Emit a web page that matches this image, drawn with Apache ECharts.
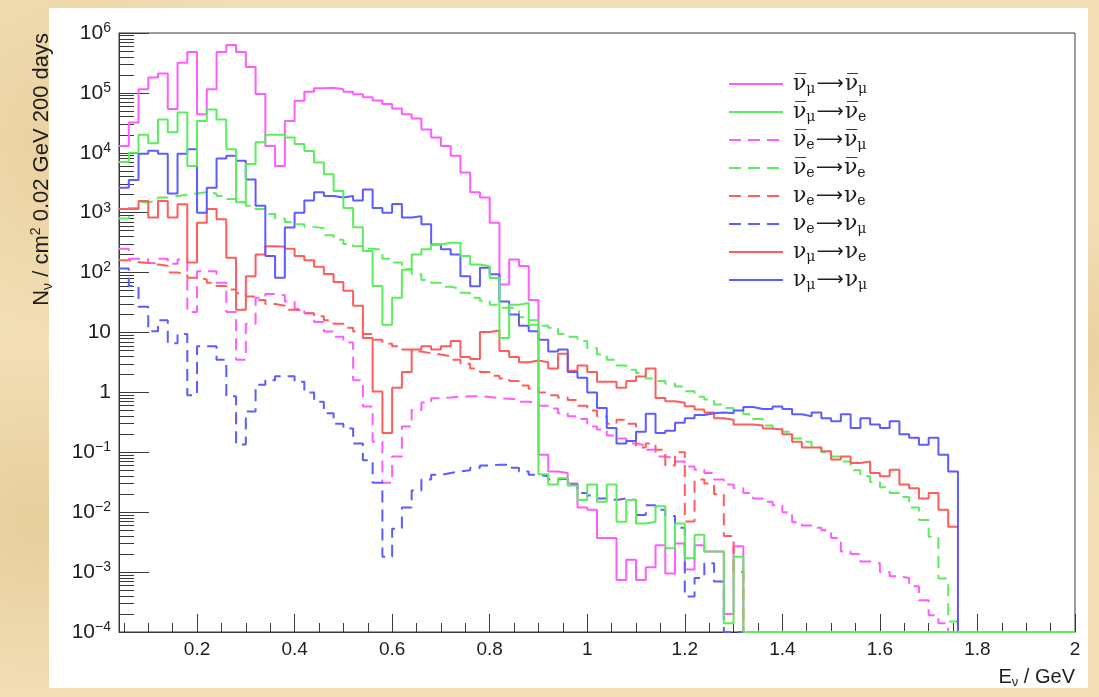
<!DOCTYPE html>
<html>
<head>
<meta charset="utf-8">
<script src="https://cdn.jsdelivr.net/npm/echarts@6/dist/echarts.min.js"></script>
<style>
  html, body { margin: 0; padding: 0; width: 1099px; height: 697px; overflow: hidden; }
  body {
    background:
      radial-gradient(circle at 8% 20%, rgba(214, 178, 110, 0.35), rgba(214, 178, 110, 0) 18%),
      radial-gradient(circle at 3% 75%, rgba(205, 165, 95, 0.30), rgba(205, 165, 95, 0) 15%),
      radial-gradient(circle at 98% 50%, rgba(214, 178, 110, 0.30), rgba(214, 178, 110, 0) 12%),
      #f2dfb6;
  }
  #paper { position: absolute; left: 49px; top: 8px; width: 1039px; height: 680px; background: #ffffff; }
  #chart { position: absolute; left: 0; top: 0; width: 1099px; height: 697px; }
</style>
</head>
<body>
<div id="paper"></div>
<div id="chart"></div>
<script>
// Histogram binning: 0.02 GeV bins starting at 0.04 GeV
const binStart = 0.04;
const binWidth = 0.02;

// Event counts per bin (empty bins are 0)
const nbarMuToNbarMu = [
  1.3e4, 3.2e4, 1.15e5, 1.8e5, 2.1e5, 5.4e4, 3.2e5, 4.8e5, 4.4e4, 1.15e5,
  4.8e5, 6.3e5, 4.8e5, 2.7e5, 9.6e4, 1.3e4, 6e3, 3.4e4, 7.4e4, 1.05e5,
  1.2e5, 1.22e5, 1.15e5, 1.05e5, 9.5e4, 8.5e4, 7.5e4, 6.5e4, 5.5e4, 4.4e4,
  3.75e4, 2.45e4, 1.8e4, 1.3e4, 8.9e3, 4.7e3, 2.2e3, 1.8e3, 680, 63,
  166, 129, 35, 0.091, 0.048, 0.045, 0.03, 0.012, 0.011, 0.0037,
  0.0037, 7.4e-4, 1.6e-3, 7.4e-4, 1.2e-3, 2.8e-3, 9.5e-4, 3e-3, 1.1e-3, 2.8e-3,
  2.2e-3, 2.2e-3, 2e-4, 2.7e-3, 0, 0, 0, 0, 0, 0,
  0, 0, 0, 0, 0, 0, 0, 0, 0, 0,
  0, 0, 0, 0, 0, 0, 0, 0, 0, 0,
  0, 0, 0, 0, 0, 0, 0, 0
];
const nbarMuToNbarE = [
  7e3, 1e4, 2e4, 1.45e4, 3.6e4, 2.2e4, 4.7e4, 6e3, 3.4e4, 5.3e4,
  3.6e4, 1.15e4, 1.5e3, 6.5e3, 1.5e4, 2e4, 2e4, 1.8e4, 1.4e4, 1.07e4,
  6.9e3, 4.4e3, 2.3e3, 1.2e3, 570, 230, 60, 13.5, 38, 112,
  200, 245, 295, 316, 316, 190, 137, 128, 81, 8.1,
  29, 31, 13.5, 0.043, 0.029, 0.037, 0.028, 0.016, 0.029, 0.015,
  0.029, 0.0069, 0.016, 0.0065, 0.0069, 0.0126, 0.0025, 0.0065, 0.0017, 0.0042,
  0.0022, 0.0022, 1.4e-4, 0.0018, 0, 0, 0, 0, 0, 0,
  0, 0, 0, 0, 0, 0, 0, 0, 0, 0,
  0, 0, 0, 0, 0, 0, 0, 0, 0, 0,
  0, 0, 0, 0, 0, 0, 0, 0
];
const nbarEToNbarMu = [
  250, 170, 165, 145, 170, 140, 165, 22, 105, 105,
  68, 22, 3.5, 14, 38, 44, 42, 33, 25, 21,
  15, 10.4, 8.5, 6.8, 1.6, 0.58, 0.15, 0.031, 0.085, 0.27,
  0.51, 0.68, 0.8, 0.82, 0.85, 0.86, 0.86, 0.84, 0.8, 0.78,
  0.76, 0.7, 0.65, 0.6, 0.54, 0.45, 0.4, 0.36, 0.27, 0.24,
  0.19, 0.17, 0.14, 0.13, 0.11, 0.085, 0.08, 0.07, 0.058, 0.051,
  0.045, 0.035, 0.029, 0.025, 0.021, 0.017, 0.015, 0.013, 0.010, 0.0068,
  0.006, 0.0055, 0.005, 0.0037, 0.0022, 0.002, 0.0015, 0.0014, 0.001, 8.5e-4,
  8e-4, 5.8e-4, 3.4e-4, 1.9e-4, 1.4e-4, 0, 0, 0, 0, 0,
  0, 0, 0, 0, 0, 0, 0, 0
];
const nbarEToNbarE = [
  800, 1.2e3, 1.5e3, 1.6e3, 1.8e3, 1.9e3, 2.0e3, 2.1e3, 2.2e3, 2.1e3,
  1.9e3, 1.7e3, 1.5e3, 1.3e3, 1.15e3, 950, 800, 700, 640, 580,
  550, 420, 355, 300, 275, 250, 240, 170, 147, 115,
  94, 75, 68, 58, 54, 46, 38, 34, 29, 26,
  25, 18, 16, 13, 12, 9.4, 8.5, 7.2, 5.5, 4.3,
  3.5, 2.8, 2.4, 2.1, 1.7, 1.55, 1.4, 1.25, 1.05, 0.85,
  0.76, 0.63, 0.55, 0.5, 0.43, 0.36, 0.28, 0.25, 0.22, 0.17,
  0.15, 0.12, 0.1, 0.085, 0.07, 0.05, 0.04, 0.032, 0.026, 0.021,
  0.018, 0.012, 0.0074, 0.0039, 7.8e-4, 1.5e-4, 0, 0, 0, 0,
  0, 0, 0, 0, 0, 0, 0, 0
];
const nuEToNuE = [
  160, 150, 145, 137, 130, 100, 94, 82, 77, 68,
  60, 52, 45, 40, 35, 30, 28, 24, 23, 21,
  18.6, 16, 14, 12, 10.4, 9.4, 7.6, 6.5, 5.9, 5.2,
  4.8, 4.5, 4.3, 4.0, 3.5, 3.0, 2.5, 2.2, 1.9, 1.7,
  1.55, 1.3, 1.15, 1.0, 0.9, 0.82, 0.75, 0.6, 0.5, 0.4,
  0.3, 0.35, 0.3, 0.12, 0.14, 0.11, 0.06, 0.1, 0.007, 0.035,
  0.03, 0.02, 0.004, 0.001, 0, 0, 0, 0, 0, 0,
  0, 0, 0, 0, 0, 0, 0, 0, 0, 0,
  0, 0, 0, 0, 0, 0, 0, 0, 0, 0,
  0, 0, 0, 0, 0, 0, 0, 0
];
const nuEToNuMu = [
  117, 60, 27, 10.5, 16, 6.6, 9.4, 0.9, 5.9, 5.9,
  3.5, 0.86, 0.135, 0.48, 1.34, 1.6, 1.86, 1.86, 1.5, 1.0,
  0.7, 0.45, 0.3, 0.25, 0.14, 0.074, 0.031, 0.0018, 0.0053, 0.012,
  0.023, 0.035, 0.042, 0.045, 0.048, 0.05, 0.055, 0.06, 0.062, 0.062,
  0.055, 0.048, 0.042, 0.04, 0.035, 0.036, 0.029, 0.021, 0.019, 0.017,
  0.016, 0.017, 0.016, 0.009, 0.013, 0.011, 0.0086, 0.0055, 3.9e-4, 8e-4,
  0.0014, 7e-4, 0, 0, 0, 0, 0, 0, 0, 0,
  0, 0, 0, 0, 0, 0, 0, 0, 0, 0,
  0, 0, 0, 0, 0, 0, 0, 0, 0, 0,
  0, 0, 0, 0, 0, 0, 0, 0
];
const nuMuToNuE = [
  1.15e3, 1.15e3, 1.57e3, 830, 1.57e3, 830, 1.38e3, 147, 680, 1.15e3,
  780, 177, 24, 87, 200, 275, 270, 250, 190, 160,
  125, 95, 70, 50, 28, 8.1, 1.04, 0.21, 1.2, 2.2,
  5.2, 5.9, 5.2, 5.9, 7.2, 3.9, 3.6, 10.2, 10.8, 4.9,
  3.9, 3.2, 3.4, 3.2, 2.5, 4.4, 2.3, 2.8, 2.2, 1.5,
  1.5, 1.19, 1.55, 1.85, 2.5, 0.81, 0.71, 0.67, 0.59, 0.52,
  0.46, 0.37, 0.35, 0.29, 0.29, 0.28, 0.25, 0.24, 0.2, 0.15,
  0.12, 0.12, 0.104, 0.076, 0.085, 0.066, 0.07, 0.045, 0.04, 0.051,
  0.029, 0.025, 0.017, 0.021, 0.011, 0.0057, 0, 0, 0, 0,
  0, 0, 0, 0, 0, 0, 0, 0
];
const nuMuToNuMu = [
  2.6e3, 3.5e3, 9.6e3, 1.08e4, 9.6e3, 2.1e3, 9.6e3, 1.15e4, 1e3, 2.6e3,
  8e3, 8.9e3, 7.4e3, 3.6e3, 1.3e3, 189, 82, 565, 1e3, 1.6e3,
  2.2e3, 1.9e3, 1.8e3, 1.9e3, 1.6e3, 2.45e3, 1.2e3, 1e3, 1.4e3, 830,
  870, 640, 295, 245, 200, 87, 59, 120, 94, 33,
  20, 13, 10.5, 7.6, 4.8, 5.2, 2.2, 1.75, 1.0, 0.55,
  0.255, 0.14, 0.155, 0.22, 0.44, 0.21, 0.23, 0.31, 0.37, 0.42,
  0.45, 0.46, 0.45, 0.5, 0.57, 0.53, 0.53, 0.58, 0.53, 0.43,
  0.40, 0.46, 0.37, 0.33, 0.43, 0.255, 0.37, 0.29, 0.255, 0.33,
  0.20, 0.175, 0.134, 0.175, 0.091, 0.048, 0, 0, 0, 0,
  0, 0, 0, 0, 0, 0, 0, 0
];

// Axis ticks and labels
const xTickValues = [0.2, 0.4, 0.6, 0.8, 1.0, 1.2, 1.4, 1.6, 1.8, 2.0];
const xTickLabels = ['0.2', '0.4', '0.6', '0.8', '1', '1.2', '1.4', '1.6', '1.8', '2'];
const yTickValues = [1e-4, 1e-3, 1e-2, 1e-1, 1, 10, 1e2, 1e3, 1e4, 1e5, 1e6];
const yTickLabels = ['10^−4', '10^−3', '10^−2', '10^−1', '1', '10', '10^2', '10^3', '10^4', '10^5', '10^6'];
const xTitle = 'E{s|ν} / GeV';
const yTitle = 'N{s|ν} / cm{p|2} 0.02 GeV 200 days';

const MAGENTA = '#ff5cff';
const GREEN = '#5ced5c';
const RED = '#ff5c5c';
const BLUE = '#5c5cff';

const channels = [
  { key: 'nbmu_nbmu', text: '{n|ν\u0305}{s|μ}{a|⟶}{n|ν\u0305}{s|μ}', data: nbarMuToNbarMu, color: MAGENTA, dashed: false, z: 2 },
  { key: 'nbmu_nbe',  text: '{n|ν\u0305}{s|μ}{a|⟶}{n|ν\u0305}{s|e}', data: nbarMuToNbarE,  color: GREEN,   dashed: false, z: 4 },
  { key: 'nbe_nbmu',  text: '{n|ν\u0305}{s|e}{a|⟶}{n|ν\u0305}{s|μ}', data: nbarEToNbarMu,  color: MAGENTA, dashed: true,  z: 2 },
  { key: 'nbe_nbe',   text: '{n|ν\u0305}{s|e}{a|⟶}{n|ν\u0305}{s|e}', data: nbarEToNbarE,   color: GREEN,   dashed: true,  z: 2 },
  { key: 'ne_ne',     text: '{n|ν}{s|e}{a|⟶}{n|ν}{s|e}',             data: nuEToNuE,       color: RED,     dashed: true,  z: 2 },
  { key: 'ne_nmu',    text: '{n|ν}{s|e}{a|⟶}{n|ν}{s|μ}',             data: nuEToNuMu,      color: BLUE,    dashed: true,  z: 2 },
  { key: 'nmu_ne',    text: '{n|ν}{s|μ}{a|⟶}{n|ν}{s|e}',             data: nuMuToNuE,      color: RED,     dashed: false, z: 3 },
  { key: 'nmu_nmu',   text: '{n|ν}{s|μ}{a|⟶}{n|ν}{s|μ}',             data: nuMuToNuMu,     color: BLUE,    dashed: false, z: 3 }
];

const yMin = 1e-4, yMax = 1e6;

// Step points at bin lower edges; empty bins sit on the axis floor
function histogramPoints(values) {
  const pts = values.map((v, i) => [+(binStart + i * binWidth).toFixed(2), v > 0 ? v : yMin]);
  pts.push([+(binStart + values.length * binWidth).toFixed(2), pts[pts.length - 1][1]]);
  return pts;
}

// Minor tick positions (axis decoration only)
const xMinorTicks = [];
for (let k = 1; k <= 40; k++) {
  const v = +(k * 0.05).toFixed(2);
  if (v >= binStart && Math.abs(v / 0.2 - Math.round(v / 0.2)) > 1e-6) xMinorTicks.push(v);
}
const yMinorTicks = [];
for (let e = -4; e < 6; e++) {
  for (let m = 2; m <= 9; m++) yMinorTicks.push(m * Math.pow(10, e));
}

const AXIS_COLOR = '#3a3a3a';
const TEXT_COLOR = '#1e1e1e';
const SANS = 'Liberation Sans, Arial, sans-serif';
const SERIF = 'DejaVu Serif, Liberation Serif, serif';

const GRID = { left: 119, right: 24, top: 33, bottom: 65 };
const W = 1099, H = 697;

const chart = echarts.init(document.getElementById('chart'), null, { renderer: 'canvas' });

const labelByKey = {};
channels.forEach(c => { labelByKey[c.key] = c.text; });

chart.setOption({
  animation: false,
  backgroundColor: 'transparent',
  grid: {
    left: GRID.left, right: GRID.right, top: GRID.top, bottom: GRID.bottom,
    outerBoundsMode: 'none', containLabel: false,
    show: true, borderColor: AXIS_COLOR, borderWidth: 1, backgroundColor: 'transparent'
  },
  legend: {
    orient: 'vertical',
    left: 723, top: 68,
    itemWidth: 54, itemHeight: 14, itemGap: 5,
    selectedMode: false,
    itemStyle: { opacity: 0 },
    data: channels.map(c => c.key),
    formatter: name => labelByKey[name],
    textStyle: {
      color: TEXT_COLOR,
      padding: [0, 0, 0, 5],
      rich: {
        n: { fontFamily: SERIF, fontSize: 22, lineHeight: 24, color: TEXT_COLOR },
        s: { fontFamily: SERIF, fontSize: 14, lineHeight: 13, verticalAlign: 'bottom', color: TEXT_COLOR },
        a: { fontFamily: 'DejaVu Sans, sans-serif', fontSize: 19, lineHeight: 24, color: TEXT_COLOR, padding: [0, 1, 0, 1] }
      }
    }
  },
  graphic: [
    {
      type: 'text', silent: true,
      x: 42, y: GRID.top, rotation: Math.PI / 2,
      style: {
        text: yTitle, align: 'right', verticalAlign: 'middle',
        fontFamily: SANS, fontSize: 22, fill: TEXT_COLOR, lineHeight: 26,
        rich: {
          s: { fontFamily: SANS, fontSize: 14, lineHeight: 14, verticalAlign: 'bottom', fill: TEXT_COLOR },
          p: { fontFamily: SANS, fontSize: 14, lineHeight: 14, verticalAlign: 'top', fill: TEXT_COLOR }
        }
      }
    },
    {
      type: 'text', silent: true,
      x: W - GRID.right, y: 677,
      style: {
        text: xTitle, align: 'right', verticalAlign: 'middle',
        fontFamily: SANS, fontSize: 20, fill: TEXT_COLOR, lineHeight: 24,
        rich: { s: { fontFamily: SANS, fontSize: 13, lineHeight: 13, verticalAlign: 'bottom', fill: TEXT_COLOR } }
      }
    }
  ],
  xAxis: [
    {
      type: 'value', min: binStart, max: 2.0,
      axisLine: { show: true, onZero: false, lineStyle: { color: AXIS_COLOR, width: 1 } },
      axisTick: { show: true, inside: true, length: 18, customValues: xTickValues, lineStyle: { color: AXIS_COLOR, width: 1 } },
      axisLabel: {
        customValues: xTickValues,
        formatter: v => {
          const i = xTickValues.findIndex(t => Math.abs(t - v) < 1e-6);
          return i >= 0 ? xTickLabels[i] : '';
        },
        fontFamily: SANS, fontSize: 19, color: TEXT_COLOR, margin: 8
      },
      splitLine: { show: false }
    },
    {
      type: 'value', min: binStart, max: 2.0, position: 'bottom',
      axisLine: { show: false },
      axisLabel: { show: false },
      splitLine: { show: false },
      axisTick: { show: true, inside: true, length: 9, customValues: xMinorTicks, lineStyle: { color: AXIS_COLOR, width: 1 } }
    }
  ],
  yAxis: [
    {
      type: 'log', logBase: 10, min: yMin, max: yMax,
      axisLine: { show: true, onZero: false, lineStyle: { color: AXIS_COLOR, width: 1 } },
      axisTick: { show: true, inside: true, length: 30, customValues: yTickValues, lineStyle: { color: AXIS_COLOR, width: 1 } },
      axisLabel: {
        customValues: yTickValues,
        formatter: v => {
          const e = Math.round(Math.log10(v));
          const i = yTickValues.findIndex(t => Math.round(Math.log10(t)) === e);
          const lbl = yTickLabels[i];
          const parts = lbl.split('^');
          return parts.length > 1 ? parts[0] + '{p|' + parts[1] + '}' : lbl;
        },
        fontFamily: SANS, fontSize: 21, color: TEXT_COLOR, margin: 8, lineHeight: 24,
        rich: { p: { fontFamily: SANS, fontSize: 14, lineHeight: 14, verticalAlign: 'top', color: TEXT_COLOR } }
      },
      splitLine: { show: false },
      minorTick: { show: false }
    },
    {
      type: 'log', logBase: 10, min: yMin, max: yMax, position: 'left',
      axisLine: { show: false },
      axisLabel: { show: false },
      splitLine: { show: false },
      axisTick: { show: true, inside: true, length: 15, customValues: yMinorTicks, lineStyle: { color: AXIS_COLOR, width: 1 } }
    }
  ],
  series: channels.map(c => ({
    name: c.key,
    type: 'line',
    xAxisIndex: 0, yAxisIndex: 0,
    step: 'end',
    symbol: 'none',
    clip: true,
    z: c.z,
    color: c.color,
    itemStyle: { color: c.color },
    lineStyle: { color: c.color, width: 2, type: c.dashed ? [12, 7] : 'solid' },
    emphasis: { disabled: true },
    data: histogramPoints(c.data)
  }))
});
</script>
</body>
</html>
